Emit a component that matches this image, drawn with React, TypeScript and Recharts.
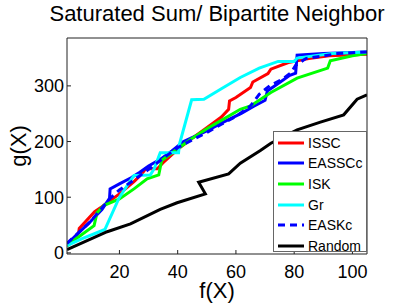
import React from "react";
import { LineChart, Line, XAxis, YAxis } from "recharts";

const FONT = '"Liberation Sans", Arial, Helvetica, sans-serif';

// axis ticks
const xTicks = [20, 40, 60, 80, 100];
const yTicks = [0, 100, 200, 300];

// series, [f(X), g(X)]
const issc = [
  [2, 15], [4, 25], [6, 36], [6.2, 44], [11.5, 74], [14, 83], [20, 106], [25, 128],
  [27.5, 141], [29, 151], [33, 151], [35, 162], [40, 186], [45, 206], [50, 225],
  [55, 244], [57.5, 258], [57.8, 273], [60, 279], [65, 297], [65.8, 307], [71, 322],
  [72, 330], [78, 342], [85, 349], [92, 354], [105, 357],
];
const eassc = [
  [2, 16], [6, 36], [10, 56], [14, 78], [16.6, 98], [16.8, 115], [20, 124], [24, 135],
  [27, 145], [30, 156], [34, 168], [38, 183], [42, 200], [47, 212], [50, 219],
  [55, 233], [62, 251], [66, 263], [70, 274], [70.8, 291], [75, 306], [78.5, 319],
  [80.5, 323], [81, 355], [90, 358], [105, 361],
];
const isk = [
  [2, 12], [5, 25], [11.3, 49], [12.3, 72], [14.6, 85], [20, 97], [25, 115], [29.5, 133],
  [33.5, 140], [34.5, 166], [40, 187], [45, 206], [50, 223], [55, 238], [61.5, 258],
  [65, 264], [72, 288], [81, 314], [91.5, 332], [92.4, 345], [100, 354], [105, 358],
];
const gr = [
  [2, 13], [7, 25], [15, 42], [20, 100], [25, 139], [30.6, 140], [32, 152], [34, 180],
  [37, 180], [40.3, 180], [40.6, 195], [44.8, 275], [49, 276], [55, 295], [61.5, 315],
  [68, 332], [74.5, 344], [80, 344], [81, 350], [93, 358], [105, 361],
];
const easkc = [
  [2, 17], [10, 56], [17, 99], [20, 113], [25, 131], [30, 150], [35, 170], [40, 189],
  [45, 203], [50, 216], [55, 231], [60, 245], [65, 264], [68, 285], [71.8, 301],
  [76, 312], [79, 324], [80.5, 337], [84, 349], [95, 358], [105, 361],
];
const random = [
  [2, 6], [15.8, 38], [23.8, 52], [34, 78], [39.8, 90], [49.5, 106], [47.2, 127],
  [57.5, 142], [61.5, 161], [68.4, 184], [72, 197], [81, 221], [89, 235], [97, 248],
  [101.6, 276], [105, 284],
];

const seriesNames = ["ISSC", "EASSCc", "ISK", "Gr", "EASKc", "Random"];
const seriesValues = [issc, eassc, isk, gr, easkc, random];
const seriesColors = ["#ff0000", "#0000ff", "#00ff00", "#00ffff", "#0000ff", "#000000"];
const seriesDash = ["", "", "", "", "7 5", ""];

const toPoints = (pairs: number[][]) => pairs.map(([x, y]) => ({ x, y }));

const XLabel = ({ viewBox }: any) => (
  <text
    x={viewBox.x + viewBox.width / 2}
    y={viewBox.y + 44}
    textAnchor="middle"
    fontSize={22}
    fontFamily={FONT}
    fill="#000"
  >
    f(X)
  </text>
);

const YLabel = ({ viewBox }: any) => {
  const cy = viewBox.y + viewBox.height / 2;
  return (
    <text
      x={26}
      y={cy}
      textAnchor="middle"
      fontSize={22}
      fontFamily={FONT}
      fill="#000"
      transform={`rotate(-90, 26, ${cy})`}
    >
      g(X)
    </text>
  );
};

const Title = ({ viewBox }: any) => (
  <text
    x={viewBox.x + viewBox.width / 2}
    y={21}
    textAnchor="middle"
    fontSize={22}
    fontFamily={FONT}
    fill="#000"
  >
    Saturated Sum/ Bipartite Neighbor
  </text>
);

function ChartLegend() {
  return (
    <div
      style={{
        position: "absolute",
        left: 273,
        top: 131,
        width: 94,
        height: 121,
        boxSizing: "border-box",
        border: "1px solid #666",
        background: "#fff",
        fontFamily: FONT,
        fontSize: 14,
        color: "#000",
      }}
    >
      {seriesNames.map((name, i) => (
        <div
          key={name}
          style={{ height: 20.6, display: "flex", alignItems: "center", marginTop: i === 0 ? 0.5 : 0 }}
        >
          <svg width={30} height={6} style={{ display: "block" }}>
            <line
              x1={4}
              x2={30}
              y1={3}
              y2={3}
              stroke={seriesColors[i]}
              strokeWidth={3}
              strokeDasharray={seriesDash[i] || undefined}
            />
          </svg>
          <span style={{ marginLeft: 4, lineHeight: 1 }}>{name}</span>
        </div>
      ))}
    </div>
  );
}

export default function App() {
  const tickStyle = { fontSize: 18, fill: "#000", fontFamily: FONT };
  return (
    <div style={{ position: "relative", width: 405, height: 305, background: "#fff" }}>
      <style>{"body{margin:0}"}</style>
      <LineChart width={405} height={305} margin={{ top: 37, right: 37, left: 0, bottom: 0 }}>
        <XAxis
          xAxisId="b"
          type="number"
          dataKey="x"
          domain={[2, 105]}
          ticks={xTicks}
          interval={0}
          allowDataOverflow
          height={51}
          tickSize={-4}
          tickMargin={15}
          stroke="#222"
          tick={tickStyle}
          label={{ content: XLabel }}
        />
        <XAxis
          xAxisId="t"
          orientation="top"
          type="number"
          dataKey="x"
          domain={[2, 105]}
          ticks={xTicks}
          interval={0}
          allowDataOverflow
          height={1}
          tickSize={-4}
          stroke="#222"
          tick={false}
          label={{ content: Title }}
        />
        <YAxis
          yAxisId="l"
          type="number"
          domain={[-2, 386]}
          ticks={yTicks}
          interval={0}
          allowDataOverflow
          width={67}
          tickSize={-4}
          tickMargin={7}
          stroke="#222"
          tick={tickStyle}
          label={{ content: YLabel }}
        />
        <YAxis
          yAxisId="r"
          orientation="right"
          type="number"
          domain={[-2, 386]}
          ticks={yTicks}
          interval={0}
          allowDataOverflow
          width={1}
          tickSize={-4}
          stroke="#222"
          tick={false}
        />
        {seriesNames.map((name, i) => (
          <Line
            key={name}
            name={name}
            xAxisId="b"
            yAxisId="l"
            data={toPoints(seriesValues[i])}
            dataKey="y"
            type="linear"
            stroke={seriesColors[i]}
            strokeWidth={3}
            strokeDasharray={seriesDash[i] || undefined}
            dot={false}
            activeDot={false}
            isAnimationActive={false}
          />
        ))}
      </LineChart>
      <ChartLegend />
    </div>
  );
}
